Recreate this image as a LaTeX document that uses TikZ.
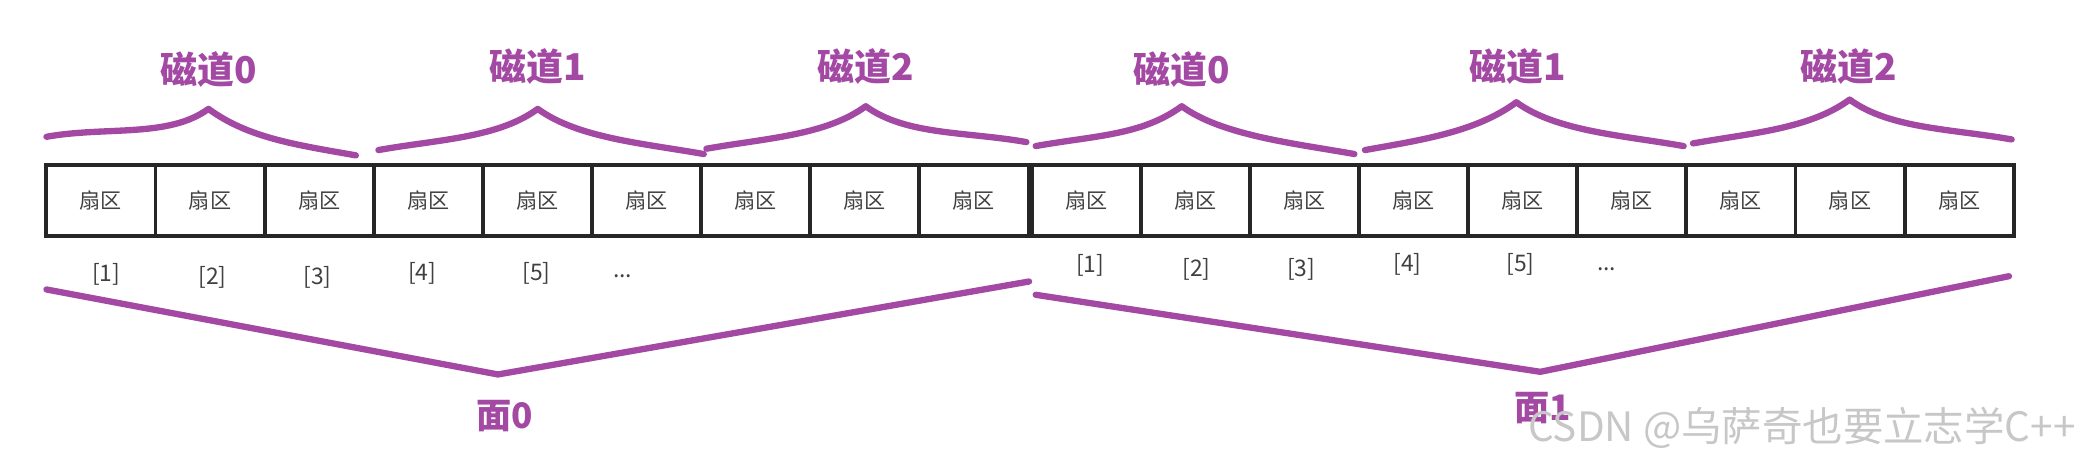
\documentclass[tikz,border=0pt]{standalone}
\usepackage{fontspec}
\setmainfont{Noto Sans CJK SC}
\usetikzlibrary{positioning}

\definecolor{trackpurple}{RGB}{163,73,164}

% one purple brace over a track: left end, peak, right end
\newcommand{\trackbrace}[3]{%
  \draw[brace] (#1) .. controls +(45,-8) and +(-30,22) .. (#2)
    .. controls +(30,22) and +(-45,-8) .. (#3);}

\begin{document}
\begin{tikzpicture}[
  x=0.013278cm, y=-0.013278cm,
  node distance=0pt,
  sector/.style={draw=black!85, line width=1.1pt, outer sep=0pt, minimum width=1.091cm, minimum height=0.717cm, inner sep=0pt, font=\fontsize{6}{7}\selectfont, text=black!75},
  idx/.style={font=\fontsize{6.5}{7}\selectfont, text=black!75},
  brace/.style={draw=trackpurple, line width=1.8pt, line cap=round, line join=round},
  tag/.style={text=trackpurple, font=\bfseries\fontsize{10.5}{12}\selectfont}
]

\useasboundingbox (0,0) rectangle (1568,343);

% Sectors of surface 0
\node[sector] (a1) at (76,151) {扇区};
\foreach \i [count=\j from 1] in {2,...,9}
  \node[sector, right=of a\j] (a\i) {扇区};

% Sectors of surface 1
\node[sector] (b1) at (818,151) {扇区};
\foreach \i [count=\j from 1] in {2,...,9}
  \node[sector, right=of b\j] (b\i) {扇区};

% Sector numbers
\node[idx] (na1) at (80,207) {[1]};
\node[idx] (na2) at (160,209) {[2]};
\node[idx] (na3) at (239,209) {[3]};
\node[idx] (na4) at (318,206) {[4]};
\node[idx] (na5) at (404,206) {[5]};
\node[idx] (na6) at (469,208) {...};
\node[idx] (nb1) at (821,200) {[1]};
\node[idx] (nb2) at (901,203) {[2]};
\node[idx] (nb3) at (980,203) {[3]};
\node[idx] (nb4) at (1060,199) {[4]};
\node[idx] (nb5) at (1145,199) {[5]};
\node[idx] (nb6) at (1210,203) {...};

% Track labels and braces
\node[tag] (ta0) at (157,52) {磁道0};
\node[tag] (ta1) at (405,50) {磁道1};
\node[tag] (ta2) at (652,50) {磁道2};
\node[tag] (tb0) at (890,52) {磁道0};
\node[tag] (tb1) at (1143,50) {磁道1};
\node[tag] (tb2) at (1392,50) {磁道2};

\trackbrace{35,103}{157,82}{268,117}
\trackbrace{285,113}{405,82}{530,116}
\trackbrace{532,112}{652,80}{773,107}
\trackbrace{780,110}{890,80}{1020,116}
\trackbrace{1028,113}{1142,77}{1268,110}
\trackbrace{1275,108}{1393,75}{1515,105}

% Surface braces and labels
\draw[brace] (35,218) -- (375,282) -- (775,212);
\draw[brace] (780,222) -- (1160,280) -- (1513,208);
\node[tag, font=\bfseries\fontsize{10}{12}\selectfont] (f0) at (380,313) {面0};
\node[tag, font=\bfseries\fontsize{10}{12}\selectfont] (f1) at (1162,307) {面1};

% watermark
\node[text=black!22, font=\fontsize{11.5}{13}\selectfont] (wm) at (1357,322) {CSDN @乌萨奇也要立志学C++};

\end{tikzpicture}
\end{document}
